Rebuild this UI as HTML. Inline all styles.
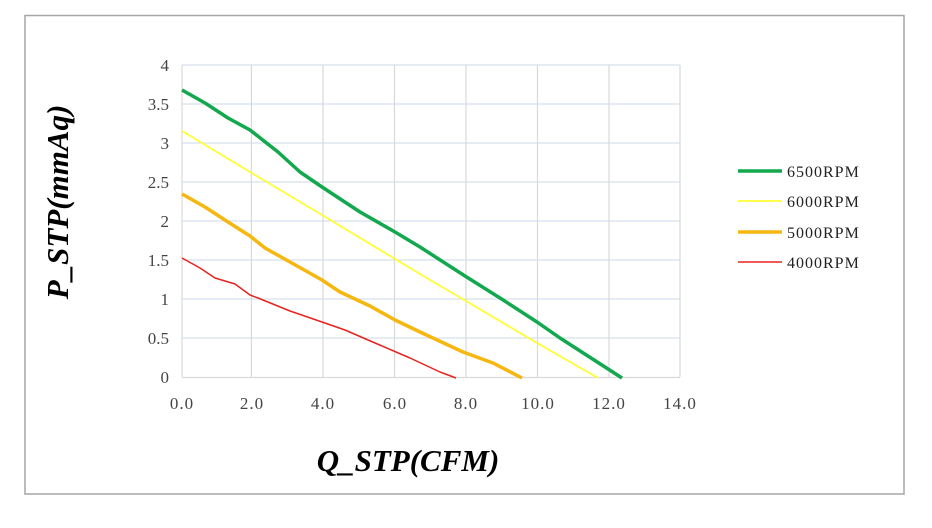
<!DOCTYPE html>
<html><head><style>body{margin:0;background:#fff}</style></head><body>
<svg width="932" height="523" xmlns="http://www.w3.org/2000/svg" font-family="Liberation Serif, serif">
<rect x="25" y="15.5" width="879" height="478.5" fill="#fff" stroke="#a6a6a6" stroke-width="1.5"/>
<g stroke="#d6e0ee" stroke-width="1.2">
<line x1="182" y1="65" x2="680" y2="65"/><line x1="182" y1="104" x2="680" y2="104"/>
<line x1="182" y1="143" x2="680" y2="143"/><line x1="182" y1="182" x2="680" y2="182"/>
<line x1="182" y1="221" x2="680" y2="221"/><line x1="182" y1="260" x2="680" y2="260"/>
<line x1="182" y1="299" x2="680" y2="299"/><line x1="182" y1="338" x2="680" y2="338"/>
</g>
<g stroke="#d9d9d9" stroke-width="1.2">
<line x1="182" y1="65" x2="182" y2="377"/><line x1="251.4" y1="65" x2="251.4" y2="377"/>
<line x1="323" y1="65" x2="323" y2="377"/><line x1="394.5" y1="65" x2="394.5" y2="377"/>
<line x1="466" y1="65" x2="466" y2="377"/><line x1="537.5" y1="65" x2="537.5" y2="377"/>
<line x1="609" y1="65" x2="609" y2="377"/><line x1="680" y1="65" x2="680" y2="377"/>
<line x1="182" y1="377.5" x2="680" y2="377.5"/>
</g>
<g font-size="17" fill="#444" text-anchor="end">
<text x="169" y="71">4</text><text x="169" y="110">3.5</text><text x="169" y="149">3</text>
<text x="169" y="188">2.5</text><text x="169" y="227">2</text><text x="169" y="266">1.5</text>
<text x="169" y="305">1</text><text x="169" y="344">0.5</text><text x="169" y="383">0</text>
</g>
<g font-size="17" fill="#444" text-anchor="middle" letter-spacing="1">
<text x="182" y="409">0.0</text><text x="252" y="409">2.0</text><text x="323" y="409">4.0</text>
<text x="395" y="409">6.0</text><text x="466" y="409">8.0</text><text x="538" y="409">10.0</text>
<text x="609" y="409">12.0</text><text x="680" y="409">14.0</text>
</g>
<g fill="none" stroke-linejoin="round">
<polyline stroke="#e8231f" stroke-width="1.5" points="182,258 200,268 215,278 235,284 250,295 258,298 290,311 322,322 345,330 375,343 410,358 440,372 456,378"/>
<polyline stroke="#f5b710" stroke-width="3.5" points="182,194 205,207 228,222 250,236 265,248 290,262 322,280 340,292 370,306 395,320 420,332 463,352 493,363 522,378"/>
<polyline stroke="#ffff33" stroke-width="1.8" points="182,131 250,172 322,215 395,259 430,280 466,301 537,343 598,378"/>
<polyline stroke="#12a84d" stroke-width="3.5" points="182,90 205,103 228,118 250,130 278,152 300,172 322,187 360,212 395,232 420,247 465,276 500,298 537,322 560,338 622,378"/>
</g>
<g stroke-width="3.5">
<line x1="738" y1="171" x2="782" y2="171" stroke="#12a84d"/>
<line x1="738" y1="201" x2="782" y2="201" stroke="#ffff33" stroke-width="1.8"/>
<line x1="738" y1="232" x2="782" y2="232" stroke="#f5b710"/>
<line x1="738" y1="262" x2="782" y2="262" stroke="#e8231f" stroke-width="1.5"/>
</g>
<g font-size="16" fill="#222" letter-spacing="1">
<text x="787" y="177">6500RPM</text><text x="787" y="207">6000RPM</text>
<text x="787" y="238">5000RPM</text><text x="787" y="268">4000RPM</text>
</g>
<text x="408" y="471" font-size="31" font-weight="bold" font-style="italic" text-anchor="middle">Q_STP(CFM)</text>
<text transform="translate(68,202) rotate(-90)" font-size="31" font-weight="bold" font-style="italic" text-anchor="middle">P_STP(mmAq)</text>
</svg>
</body></html>
